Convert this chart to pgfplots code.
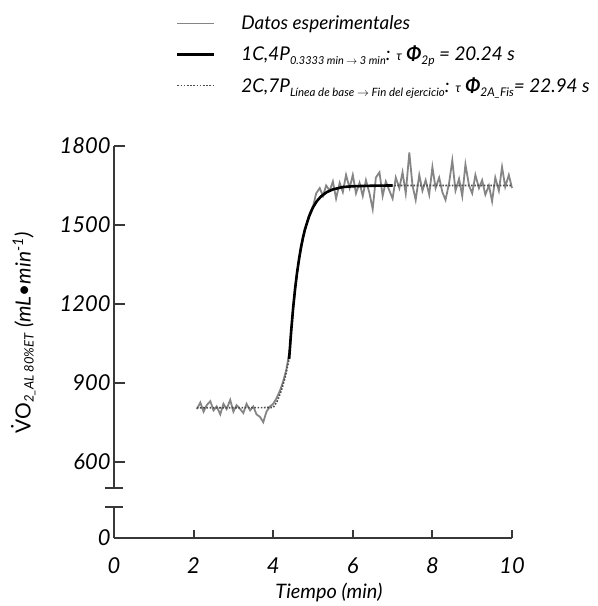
\documentclass[border=0pt]{standalone}
\usepackage{fontspec}
\setmainfont{Lato}
\usepackage{pgfplots}
\usepackage{pgfplotstable}
\pgfplotsset{compat=1.18}
\definecolor{axisgray}{gray}{0.22}
\definecolor{datagray}{gray}{0.52}
\definecolor{dotgray}{gray}{0.3}

\pgfplotstableread{
t v
2.08 800
2.17 825
2.25 790
2.33 815
2.42 830
2.50 795
2.58 810
2.67 780
2.75 820
2.83 800
2.92 835
3.00 790
3.08 815
3.17 800
3.25 785
3.33 820
3.42 795
3.50 810
3.58 780
3.67 770
3.75 750
3.83 790
3.92 810
4.00 820
4.08 840
4.17 870
4.25 905
4.33 950
4.42 1030
4.50 1180
4.58 1300
4.67 1385
4.75 1450
4.83 1500
4.92 1545
5.00 1570
5.08 1620
5.17 1640
5.25 1610
5.33 1650
5.42 1630
5.50 1665
5.58 1600
5.67 1660
5.75 1625
5.83 1690
5.92 1640
6.00 1690
6.08 1620
6.17 1660
6.25 1610
6.33 1670
6.42 1620
6.50 1560
6.58 1680
6.67 1700
6.75 1610
6.83 1665
6.92 1630
7.00 1600
7.08 1680
7.17 1640
7.25 1700
7.33 1620
7.42 1775
7.50 1650
7.58 1595
7.67 1690
7.75 1630
7.83 1670
7.92 1615
8.00 1720
8.08 1640
8.17 1680
8.25 1625
8.33 1595
8.42 1660
8.50 1745
8.58 1630
8.67 1675
8.75 1610
8.83 1730
8.92 1650
9.00 1620
9.08 1690
9.17 1640
9.25 1670
9.33 1615
9.42 1650
9.50 1590
9.58 1680
9.67 1630
9.75 1720
9.83 1645
9.92 1690
10.00 1640
}\datatable

\pgfplotstableread{
t v
4.40 990
4.45 1094
4.50 1183
4.55 1257
4.60 1319
4.65 1371
4.70 1416
4.75 1453
4.80 1484
4.90 1532
5.00 1567
5.10 1591
5.20 1608
5.35 1625
5.50 1635
5.75 1644
6.00 1647
6.50 1649
7.00 1650
}\fitone

\pgfplotstableread{
t v
2.08 805
3.00 805
4.00 806
4.10 830
4.20 868
4.30 920
4.40 990
4.45 1094
4.50 1183
4.55 1257
4.60 1319
4.65 1371
4.70 1416
4.75 1453
4.80 1484
4.90 1532
5.00 1567
5.10 1591
5.20 1608
5.35 1625
5.50 1635
5.75 1644
6.00 1647
6.50 1649
7.00 1650
8.00 1650
9.00 1650
10.00 1650
}\fittwo

\begin{document}
\begin{tikzpicture}
\useasboundingbox (0,0) rectangle (598bp,606bp);
\begin{axis}[
  at={(114bp,118bp)}, anchor=south west,
  width=398bp, height=342bp, scale only axis,
  xmin=0, xmax=10, ymin=500, ymax=1800,
  axis x line=none, axis y line=left,
  y axis line style={-, line width=2.5bp, draw=axisgray},
  ytick={600,900,1200,1500,1800},
  major tick length=11bp, tick align=inside,
  every tick/.style={line width=2bp, draw=axisgray},
  extra y ticks={500}, extra y tick labels={},
  extra y tick style={major tick length=18bp, tick align=center},
  yticklabel={\itshape\pgfmathprintnumber[assume math mode=true,1000 sep={}]{\tick}},
  yticklabel style={font=\fontsize{22}{26}\selectfont},
  clip=false,
  every axis y label/.style={at={(axis description cs:-0.228,0.453)}, rotate=90, anchor=center, font=\fontsize{21}{25}\selectfont},
  ylabel={\.VO\textsubscript{\fontsize{13}{15}\selectfont\itshape 2\_AL 80\%ET} \textit{(mL•min\textsuperscript{-1})}},
  legend style={at={(axis description cs:0.148,1.39)}, anchor=north west, draw=none, fill=none,
     font=\fontsize{19}{23}\selectfont\itshape, row sep=13bp,
     nodes={inner sep=1bp}},
  legend cell align=left,
  legend image code/.code={\draw[#1] (0bp,0bp) -- (37bp,0bp); \path[draw=none] (0bp,0bp) -- (63bp,0bp);},
]
\addplot[datagray, line width=1.8bp] table[x=t,y=v]{\datatable};
\addlegendentry{Datos esperimentales}
\addplot[dotgray, line width=1.6bp, dash pattern=on 1.6bp off 1.6bp, forget plot] table[x=t,y=v]{\fittwo};
\addplot[black, line width=2.6bp] table[x=t,y=v]{\fitone};
\addlegendentry{1C,4P\raisebox{-0.4ex}{\fontsize{11}{12}\selectfont 0.3333 min $\rightarrow$ 3 min}: {\fontsize{13}{14}\selectfont τ} \textbf{Φ}\raisebox{-0.4ex}{\fontsize{12}{13}\selectfont 2p} = 20.24 s}
\addlegendimage{dotgray, line width=1.6bp, dash pattern=on 1.6bp off 1.6bp}
\addlegendentry{2C,7P\raisebox{-0.4ex}{\fontsize{11.5}{12}\selectfont Línea de base $\rightarrow$ Fin del ejercicio}: {\fontsize{13}{14}\selectfont τ} \textbf{Φ}\raisebox{-0.4ex}{\fontsize{12}{13}\selectfont 2A\_Fis}= 22.94 s}
\end{axis}
\begin{axis}[
  at={(114bp,68bp)}, anchor=south west,
  width=398bp, height=31bp, scale only axis,
  xmin=0, xmax=10, ymin=0, ymax=118,
  axis x line=bottom, axis y line=left,
  axis line style={-, line width=2.5bp, draw=axisgray},
  xtick={0,2,4,6,8,10}, ytick={0},
  major tick length=8bp, tick align=inside,
  every tick/.style={line width=2bp, draw=axisgray},
  extra y ticks={118}, extra y tick labels={},
  extra y tick style={major tick length=18bp, tick align=center},
  xticklabel={\itshape\pgfmathprintnumber[assume math mode=true]{\tick}},
  yticklabel={\itshape\pgfmathprintnumber[assume math mode=true]{\tick}},
  ticklabel style={font=\fontsize{22}{26}\selectfont},
  xticklabel style={yshift=-16bp},
  every axis x label/.style={at={(axis description cs:0.54,-1.75)}, anchor=center, font=\fontsize{20}{24}\selectfont\itshape},
  xlabel={Tiempo (min)},
  clip=false,
]
\addplot[draw=none, forget plot] coordinates {(0,0)};
\end{axis}
\end{tikzpicture}
\end{document}
